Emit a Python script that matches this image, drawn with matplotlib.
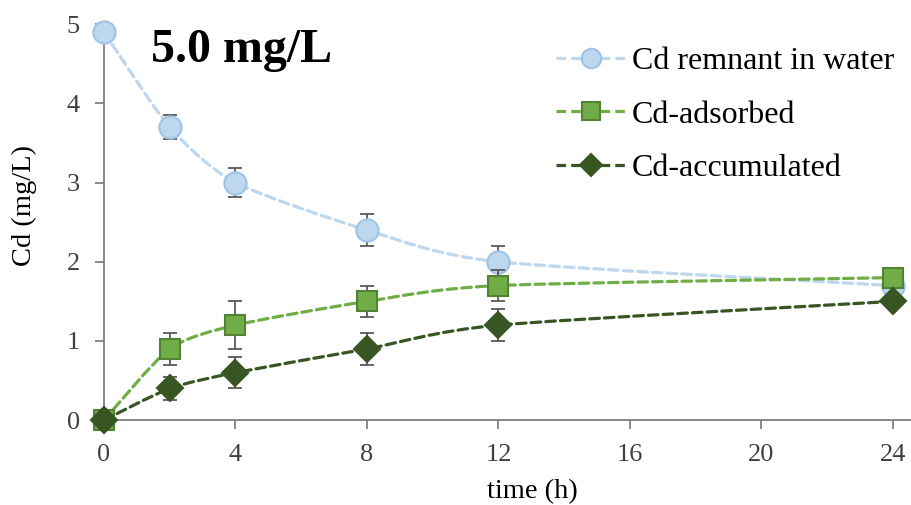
import numpy as np
import matplotlib.pyplot as plt
from matplotlib.path import Path
from matplotlib.patches import PathPatch
from matplotlib.lines import Line2D

plt.rcParams['font.family'] = ['Liberation Serif', 'DejaVu Serif']

# Data
time_h = [0, 2, 4, 8, 12, 24]
remnant = [4.9, 3.7, 3.0, 2.4, 2.0, 1.7]
remnant_err = [0.05, 0.15, 0.18, 0.2, 0.2, 0.0]
adsorbed = [0.0, 0.9, 1.2, 1.5, 1.7, 1.8]
adsorbed_err = [0.0, 0.2, 0.3, 0.2, 0.2, 0.0]
accumulated = [0.0, 0.4, 0.6, 0.9, 1.2, 1.5]
accumulated_err = [0.0, 0.15, 0.2, 0.2, 0.2, 0.0]
labels = ["Cd remnant in water", "Cd-adsorbed", "Cd-accumulated"]


def smooth_path(x, y, t=0.12):
    # smoothed line (Excel style) as cubic Bezier segments
    x = np.asarray(x, float)
    y = np.asarray(y, float)
    verts = [(x[0], y[0])]
    codes = [Path.MOVETO]
    n = len(x)
    for i in range(n - 1):
        p0 = np.array([x[max(i - 1, 0)], y[max(i - 1, 0)]])
        p1 = np.array([x[i], y[i]])
        p2 = np.array([x[i + 1], y[i + 1]])
        p3 = np.array([x[min(i + 2, n - 1)], y[min(i + 2, n - 1)]])
        c1 = p1 + (p2 - p0) * t
        c2 = p2 - (p3 - p1) * t
        verts += [tuple(c1), tuple(c2), tuple(p2)]
        codes += [Path.CURVE4] * 3
    return Path(verts, codes)


fig = plt.figure(figsize=(9.12, 5.05), dpi=100)
ax = fig.add_axes([0.114, 0.168, 0.886, 0.784])

series = [
    (remnant, remnant_err, "#BDD7EE", "#BDD7EE", "#9DC3E6", "o", 16, 14),
    (adsorbed, adsorbed_err, "#70AD47", "#70AD47", "#548235", "s", 15, 12.5),
    (accumulated, accumulated_err, "#375623", "#375623", "#375623", "D", 13, 11),
]
dash = (3.0, 1.6)

handles = []
for z, (vals, err, lc, fc, ec, mk, ms, lms) in enumerate(series):
    patch = PathPatch(smooth_path(time_h, vals), facecolor="none", edgecolor=lc,
                      lw=2.3, linestyle=(0, dash), zorder=2 + z * 3, clip_on=False,
                      capstyle="round")
    ax.add_patch(patch)
    ax.errorbar(time_h, vals, yerr=err, fmt="none", ecolor="#595959", elinewidth=1.3,
                capsize=5, capthick=1.3, zorder=3 + z * 3, clip_on=False)
    ax.plot(time_h, vals, linestyle="none", marker=mk, ms=ms, markerfacecolor=fc,
            markeredgecolor=ec, markeredgewidth=1.5, zorder=4 + z * 3, clip_on=False)
    handles.append(Line2D([], [], color=lc, lw=2.3, linestyle=(0, dash), marker=mk,
                          ms=lms, markerfacecolor=fc, markeredgecolor=ec,
                          markeredgewidth=1.5))

ax.set_xlim(0, 24.58)
ax.set_ylim(0, 5)
ax.set_xticks(range(0, 25, 4))
ax.set_yticks(range(0, 6))
for s in ["top", "right"]:
    ax.spines[s].set_visible(False)
for s in ["left", "bottom"]:
    ax.spines[s].set_color("#808080")
    ax.spines[s].set_linewidth(1.3)
ax.tick_params(axis="both", colors="#808080", labelcolor="#404040", labelsize=19,
               length=6.5, width=1.3)
ax.tick_params(axis="x", pad=11)
ax.tick_params(axis="y", pad=11)
ax.set_xlabel("time (h)", fontsize=20.5, color="#000000")
ax.set_ylabel("Cd (mg/L)", fontsize=20.5, color="#000000")
ax.xaxis.set_label_coords(0.53, -0.148)
ax.yaxis.set_label_coords(-0.083, 0.542)

ax.text(0.058, 0.99, "5.0 mg/L", transform=ax.transAxes, fontsize=34.5,
        fontweight="bold", va="top", ha="left")

leg = ax.legend(handles, labels, loc="upper left", bbox_to_anchor=(0.543, 0.975),
                frameon=False, fontsize=23, handlelength=2.2, handletextpad=0.2,
                labelspacing=0.75, borderaxespad=0)

fig.savefig("out.png", dpi=100)
plt.close(fig)
